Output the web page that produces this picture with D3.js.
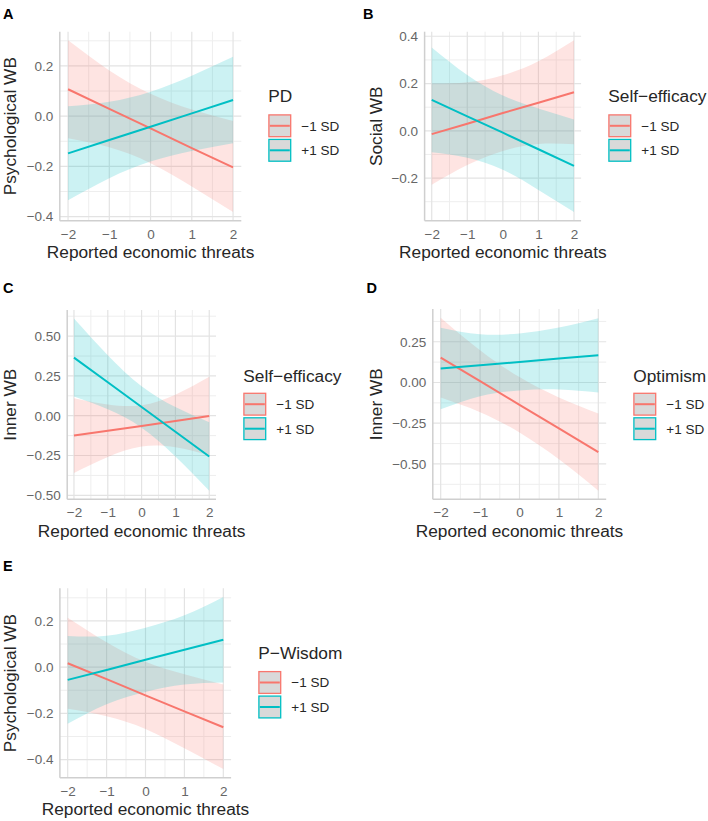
<!DOCTYPE html>
<html><head><meta charset="utf-8">
<script src="https://cdn.jsdelivr.net/npm/d3@7"></script>
<style>
body{margin:0;background:#fff}
svg{display:block}
text{font-family:"Liberation Sans",Arial,Helvetica,sans-serif}
</style>
</head><body>
<svg id="c" width="708" height="821"></svg>
<script>
// ---------- shared data ----------
const xValues = [-2, -1, 0, 1, 2];
const xTickValues = [-2, -1, 0, 1, 2];
const xTickLabels = ["−2", "−1", "0", "1", "2"];
const seriesLabels = ["−1 SD", "+1 SD"];
const seriesColors = ["#F8766D", "#00BFC4"];
const xTitle = "Reported economic threats";

// ---------- Panel A : Psychological WB x PD ----------
const aLowFit   = [0.107, 0.029, -0.049, -0.127, -0.204];
const aLowLower = [-0.088, -0.124, -0.187, -0.280, -0.382];
const aLowUpper = [0.302, 0.182, 0.089, 0.026, -0.019];
const aHighFit   = [-0.148, -0.095, -0.042, 0.011, 0.064];
const aHighLower = [-0.335, -0.247, -0.181, -0.139, -0.108];
const aHighUpper = [0.039, 0.057, 0.097, 0.161, 0.236];
const aYTicks = [-0.4, -0.2, 0.0, 0.2];
const aYLabels = ["−0.4", "−0.2", "0.0", "0.2"];

// ---------- Panel B : Social WB x Self-efficacy ----------
const bLowFit   = [-0.014, 0.030, 0.075, 0.119, 0.163];
const bLowLower = [-0.228, -0.145, -0.085, -0.056, -0.057];
const bLowUpper = [0.200, 0.205, 0.235, 0.294, 0.383];
const bHighFit   = [0.131, 0.061, -0.008, -0.078, -0.148];
const bHighLower = [-0.091, -0.114, -0.165, -0.250, -0.344];
const bHighUpper = [0.353, 0.236, 0.149, 0.094, 0.048];
const bYTicks = [-0.2, 0.0, 0.2, 0.4];
const bYLabels = ["−0.2", "0.0", "0.2", "0.4"];

// ---------- Panel C : Inner WB x Self-efficacy ----------
const cLowFit   = [-0.125, -0.094, -0.064, -0.033, -0.002];
const cLowLower = [-0.360, -0.259, -0.194, -0.198, -0.248];
const cLowUpper = [0.110, 0.071, 0.066, 0.132, 0.244];
const cHighFit   = [0.365, 0.210, 0.055, -0.101, -0.256];
const cHighLower = [0.120, 0.040, -0.075, -0.256, -0.471];
const cHighUpper = [0.610, 0.380, 0.185, 0.054, -0.041];
const cYTicks = [-0.5, -0.25, 0.0, 0.25, 0.5];
const cYLabels = ["−0.50", "−0.25", "0.00", "0.25", "0.50"];

// ---------- Panel D : Inner WB x Optimism ----------
const dLowFit   = [0.153, 0.008, -0.137, -0.282, -0.427];
const dLowLower = [-0.092, -0.182, -0.307, -0.472, -0.664];
const dLowUpper = [0.398, 0.198, 0.033, -0.092, -0.190];
const dHighFit   = [0.086, 0.106, 0.126, 0.147, 0.167];
const dHighLower = [-0.164, -0.084, -0.049, -0.043, -0.061];
const dHighUpper = [0.336, 0.296, 0.301, 0.337, 0.395];
const dYTicks = [-0.5, -0.25, 0.0, 0.25];
const dYLabels = ["−0.50", "−0.25", "0.00", "0.25"];

// ---------- Panel E : Psychological WB x P-Wisdom ----------
const eLowFit   = [0.017, -0.052, -0.122, -0.191, -0.260];
const eLowLower = [-0.180, -0.212, -0.267, -0.351, -0.441];
const eLowUpper = [0.214, 0.108, 0.023, -0.031, -0.075];
const eHighFit   = [-0.055, -0.012, 0.032, 0.075, 0.119];
const eHighLower = [-0.245, -0.160, -0.107, -0.075, -0.066];
const eHighUpper = [0.135, 0.136, 0.171, 0.225, 0.304];
const eYTicks = [-0.4, -0.2, 0.0, 0.2];
const eYLabels = ["−0.4", "−0.2", "0.0", "0.2"];

// ---------- layout ----------
function mk(fit, lo, up){ return {fit, lower: lo, upper: up}; }
const panels = [
  {tag:"A", yTitle:"Psychological WB", legendTitle:"PD",
   series:[mk(aLowFit,aLowLower,aLowUpper), mk(aHighFit,aHighLower,aHighUpper)],
   yTicks:aYTicks, yLabels:aYLabels,
   box:{l:59.8,r:241.3,t:31.7,b:220.7}, tagPos:[3,18.5], yTitleX:15.8,
   leg:{x:268.3, ty:101.7, ky:114.3}},
  {tag:"B", yTitle:"Social WB", legendTitle:"Self−efficacy",
   series:[mk(bLowFit,bLowLower,bLowUpper), mk(bHighFit,bHighLower,bHighUpper)],
   yTicks:bYTicks, yLabels:bYLabels,
   box:{l:424.6,r:581.1,t:31.7,b:220.7}, tagPos:[363,18.5], yTitleX:381.5,
   leg:{x:608.3, ty:102.2, ky:114.3}},
  {tag:"C", yTitle:"Inner WB", legendTitle:"Self−efficacy",
   series:[mk(cLowFit,cLowLower,cLowUpper), mk(cHighFit,cHighLower,cHighUpper)],
   yTicks:cYTicks, yLabels:cYLabels,
   box:{l:67.2,r:216.0,t:310,b:499.3}, tagPos:[3,293], yTitleX:16,
   leg:{x:243.3, ty:381.7, ky:392.7}},
  {tag:"D", yTitle:"Inner WB", legendTitle:"Optimism",
   series:[mk(dLowFit,dLowLower,dLowUpper), mk(dHighFit,dHighLower,dHighUpper)],
   yTicks:dYTicks, yLabels:dYLabels,
   box:{l:432.8,r:606.2,t:309,b:499.3}, tagPos:[366.5,293], yTitleX:381.7,
   leg:{x:633.3, ty:381.7, ky:392.7}},
  {tag:"E", yTitle:"Psychological WB", legendTitle:"P−Wisdom",
   series:[mk(eLowFit,eLowLower,eLowUpper), mk(eHighFit,eHighLower,eHighUpper)],
   yTicks:eYTicks, yLabels:eYLabels,
   box:{l:59.9,r:231.1,t:588.3,b:777.7}, tagPos:[3,571], yTitleX:15.8,
   leg:{x:258.3, ty:659.3, ky:671}}
];

const svg = d3.select("#c");
const TICK_FS = 13.5, TITLE_FS = 17.3, TEXT_GREY = "#666666", TEXT_DARK = "#262626";

function drawPanel(p){
  const g = svg.append("g");
  const B = p.box;
  const x = d3.scaleLinear().domain([-2.2, 2.2]).range([B.l, B.r]);
  const all = p.series.flatMap(s => s.lower.concat(s.upper));
  const [mn, mx] = d3.extent(all);
  const pad = (mx - mn) * 0.05;
  const y = d3.scaleLinear().domain([mn - pad, mx + pad]).range([B.b, B.t]);

  function minors(ticks, dom){
    const step = ticks[1] - ticks[0];
    const ext = [ticks[0] - step].concat(ticks, [ticks[ticks.length-1] + step]);
    return d3.pairs(ext).map(([a,b]) => (a+b)/2).filter(v => v >= dom[0] && v <= dom[1]);
  }
  const xMin = minors(xTickValues, x.domain());
  const yMin = minors(p.yTicks, y.domain());

  const grid = g.append("g");
  grid.selectAll(".vmin").data(xMin).join("line")
    .attr("x1", d => x(d)).attr("x2", d => x(d)).attr("y1", B.t).attr("y2", B.b)
    .attr("stroke", "#eeeeee").attr("stroke-width", 1);
  grid.selectAll(".hmin").data(yMin).join("line")
    .attr("x1", B.l).attr("x2", B.r).attr("y1", d => y(d)).attr("y2", d => y(d))
    .attr("stroke", "#eeeeee").attr("stroke-width", 1);
  grid.selectAll(".vmaj").data(xTickValues).join("line")
    .attr("x1", d => x(d)).attr("x2", d => x(d)).attr("y1", B.t).attr("y2", B.b)
    .attr("stroke", "#e3e3e3").attr("stroke-width", 1.2);
  grid.selectAll(".hmaj").data(p.yTicks).join("line")
    .attr("x1", B.l).attr("x2", B.r).attr("y1", d => y(d)).attr("y2", d => y(d))
    .attr("stroke", "#e3e3e3").attr("stroke-width", 1.2);

  const area = d3.area().curve(d3.curveNatural)
    .x((d,i) => x(xValues[i])).y0(d => y(d[0])).y1(d => y(d[1]));
  p.series.forEach((s, k) => {
    g.append("path").datum(s.lower.map((v,i) => [v, s.upper[i]]))
      .attr("d", area).attr("fill", seriesColors[k]).attr("fill-opacity", 0.2);
  });
  const line = d3.line().x((d,i) => x(xValues[i])).y(d => y(d));
  p.series.forEach((s, k) => {
    g.append("path").datum(s.fit).attr("d", line)
      .attr("fill", "none").attr("stroke", seriesColors[k]).attr("stroke-width", 2);
  });

  g.append("line").attr("x1", B.l).attr("x2", B.l).attr("y1", B.t).attr("y2", B.b)
    .attr("stroke", "#cfcfcf").attr("stroke-width", 1.5);
  g.append("line").attr("x1", B.l).attr("x2", B.r).attr("y1", B.b).attr("y2", B.b)
    .attr("stroke", "#cfcfcf").attr("stroke-width", 1.5);

  const xa = g.append("g").attr("transform", `translate(0,${B.b})`)
    .call(d3.axisBottom(x).tickValues(xTickValues).tickFormat((d,i) => xTickLabels[i]).tickSize(0).tickPadding(8.5));
  const ya = g.append("g").attr("transform", `translate(${B.l},0)`)
    .call(d3.axisLeft(y).tickValues(p.yTicks).tickFormat((d,i) => p.yLabels[i]).tickSize(0).tickPadding(6.5));
  [xa, ya].forEach(a => {
    a.select(".domain").remove();
    a.selectAll("text").attr("font-size", TICK_FS).attr("fill", TEXT_GREY)
      .attr("font-family", '"Liberation Sans",Arial,sans-serif');
  });

  g.append("text").attr("x", (B.l + B.r)/2).attr("y", B.b + 37.5)
    .attr("text-anchor", "middle").attr("font-size", TITLE_FS).attr("fill", TEXT_DARK)
    .text(xTitle);
  g.append("text").attr("transform", `translate(${p.yTitleX},${(B.t + B.b)/2}) rotate(-90)`)
    .attr("text-anchor", "middle").attr("font-size", TITLE_FS).attr("fill", TEXT_DARK)
    .text(p.yTitle);

  g.append("text").attr("x", p.tagPos[0]).attr("y", p.tagPos[1])
    .attr("font-size", 14.5).attr("font-weight", "bold").attr("fill", "#000").text(p.tag);

  const L = p.leg, KS = 23;
  g.append("text").attr("x", L.x).attr("y", L.ty).attr("font-size", TITLE_FS)
    .attr("fill", TEXT_DARK).text(p.legendTitle);
  seriesLabels.forEach((lab, k) => {
    const ky = L.ky + k * (KS + 1.5);
    g.append("rect").attr("x", L.x + 0.6).attr("y", ky + 0.6).attr("width", KS - 1.2).attr("height", KS - 1.2)
      .attr("fill", "#d9d9d9").attr("stroke", seriesColors[k]).attr("stroke-width", 1.3);
    g.append("line").attr("x1", L.x + 1.5).attr("x2", L.x + KS - 1.5)
      .attr("y1", ky + KS/2).attr("y2", ky + KS/2)
      .attr("stroke", seriesColors[k]).attr("stroke-width", 2);
    g.append("text").attr("x", L.x + KS + 10).attr("y", ky + KS/2 + 4.8)
      .attr("font-size", TICK_FS).attr("fill", TEXT_DARK).text(lab);
  });
}

panels.forEach(drawPanel);
</script>
</body></html>
